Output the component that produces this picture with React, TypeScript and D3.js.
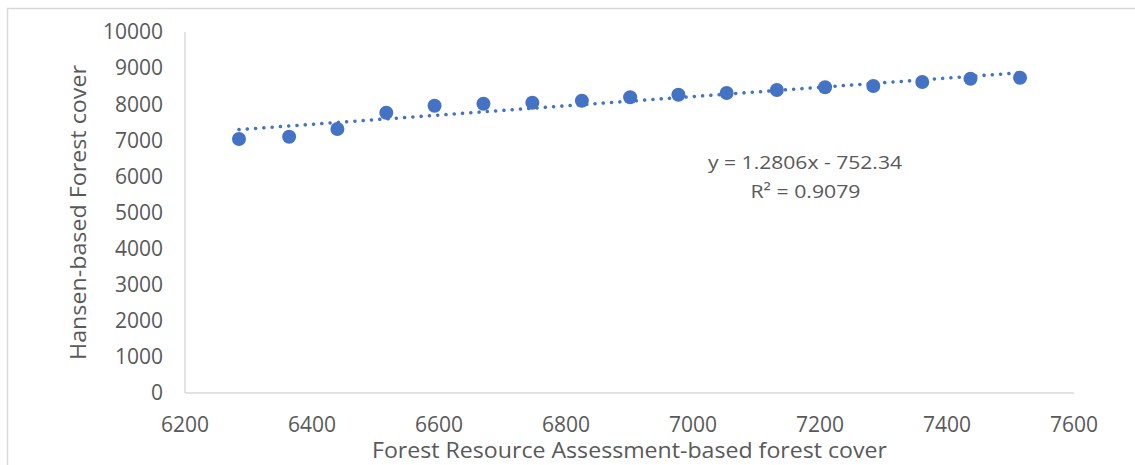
import React from 'react';
import * as d3 from 'd3';

// FRA-based forest cover (x) vs Hansen-based forest cover (y)
const fraCover = [6285, 6364, 6440, 6517, 6593, 6670, 6747, 6825, 6901, 6977, 7053, 7132, 7208, 7284, 7361, 7437, 7515];
const hansenCover = [7036, 7100, 7313, 7765, 7958, 8014, 8042, 8097, 8191, 8263, 8310, 8393, 8468, 8504, 8615, 8706, 8734];
const xTicks = [6200, 6400, 6600, 6800, 7000, 7200, 7400, 7600];
const yTicks = [0, 1000, 2000, 3000, 4000, 5000, 6000, 7000, 8000, 9000, 10000];
const trendSlope = 1.2806;
const trendIntercept = -752.34;
const trendLabel = ['y = 1.2806x - 752.34', 'R² = 0.9079'];

export default function App() {
    const width = 1135;
    const height = 465;
    const margin = { top: 32, right: 61, bottom: 72, left: 185 };
    const innerWidth = width - margin.left - margin.right;
    const innerHeight = height - margin.top - margin.bottom;
    const font = '"Open Sans", sans-serif';
    const textColor = '#595959';
    const axisColor = '#d9d9d9';
    const blue = '#4472C4';

    const xScale = d3.scaleLinear().domain([6200, 7600]).range([0, innerWidth]);
    const yScale = d3.scaleLinear().domain([0, 10000]).range([innerHeight, 0]);

    const xMin = d3.min(fraCover);
    const xMax = d3.max(fraCover);
    const trend = d3.line()
        .x(d => xScale(d[0]))
        .y(d => yScale(d[1]));
    const trendPts = [xMin, xMax].map(x => [x, trendSlope * x + trendIntercept]);

    return (
        <svg width={width} height={height} style={{ position: 'absolute', left: 0, top: 0 }}>
            <rect x={7.5} y={8.5} width={1140} height={470} fill="white" stroke={axisColor} strokeWidth={1.5} />
            <g transform={`translate(${margin.left}, ${margin.top})`}>
                <line x1={0} x2={0} y1={0} y2={innerHeight} stroke={axisColor} strokeWidth={1.5} />
                <line x1={0} x2={innerWidth} y1={innerHeight} y2={innerHeight} stroke={axisColor} strokeWidth={1.5} />
                {yTicks.map(t => (
                    <text key={t} x={-22} y={yScale(t)} dy="0.35em" textAnchor="end"
                        fontFamily={font} fontSize={21} fill={textColor}>{t}</text>
                ))}
                {xTicks.map(t => (
                    <text key={t} x={xScale(t)} y={innerHeight + 38.5} textAnchor="middle"
                        fontFamily={font} fontSize={21} fill={textColor}>{t}</text>
                ))}
                {fraCover.map((x, i) => (
                    <circle key={i} cx={xScale(x)} cy={yScale(hansenCover[i])} r={7} fill={blue} />
                ))}
                <path d={trend(trendPts)} fill="none" stroke={blue} strokeWidth={3.5}
                    strokeLinecap="round" strokeDasharray="0.1 8.2" />
                <text x={620} y={137} textAnchor="middle" fontFamily={font} fontSize={19} fill={textColor}
                    textLength={194} lengthAdjust="spacingAndGlyphs">{trendLabel[0]}</text>
                <text x={620.5} y={165.5} textAnchor="middle" fontFamily={font} fontSize={19} fill={textColor}
                    textLength={110} lengthAdjust="spacingAndGlyphs">{trendLabel[1]}</text>
            </g>
            <text x={margin.left + innerWidth / 2} y={457.5} textAnchor="middle"
                fontFamily={font} fontSize={21} fill={textColor}
                textLength={515} lengthAdjust="spacingAndGlyphs">Forest Resource Assessment-based forest cover</text>
            <text transform={`translate(86, ${margin.top + innerHeight / 2}) rotate(-90)`} textAnchor="middle"
                fontFamily={font} fontSize={21} fill={textColor}
                textLength={295} lengthAdjust="spacingAndGlyphs">Hansen-based Forest cover</text>
        </svg>
    );
}
